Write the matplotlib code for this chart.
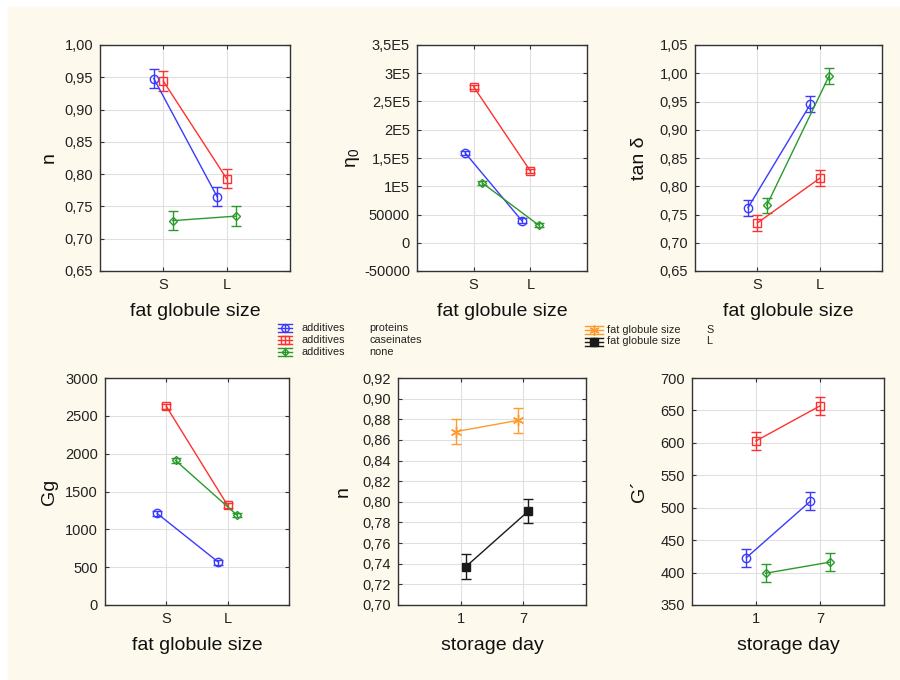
import matplotlib
matplotlib.use("Agg")
import matplotlib.pyplot as plt
from matplotlib.patches import Rectangle
from matplotlib.ticker import MultipleLocator, FixedLocator, FuncFormatter

plt.rcParams["font.family"] = ["Liberation Sans", "DejaVu Sans"]
plt.rcParams["mathtext.default"] = "regular"

# ---- data ----
SIZE_CATS = ["S", "L"]
DAY_CATS = ["1", "7"]
ADDITIVES = ["proteins", "caseinates", "none"]
FAT_SIZES = ["S", "L"]

# n vs fat globule size
n_size = {"proteins": [0.948, 0.765], "caseinates": [0.944, 0.793], "none": [0.728, 0.735]}
n_size_err = 0.015

# eta0 vs fat globule size
eta0_size = {"proteins": [159000, 39000], "caseinates": [276000, 127000], "none": [106000, 31000]}
eta0_size_err = 4000
eta0_ticks = [-50000, 0, 50000, 100000, 150000, 200000, 250000, 300000, 350000]
eta0_tick_labels = ["-50000", "0", "50000", "1E5", "1,5E5", "2E5", "2,5E5", "3E5", "3,5E5"]

# tan delta vs fat globule size
tand_size = {"proteins": [0.762, 0.945], "caseinates": [0.735, 0.814], "none": [0.766, 0.995]}
tand_size_err = 0.014

# Gg vs fat globule size
gg_size = {"proteins": [1210, 565], "caseinates": [2625, 1315], "none": [1910, 1190]}
gg_size_err = 30

# n vs storage day, by fat globule size
n_day = {"S": [0.868, 0.879], "L": [0.737, 0.791]}
n_day_err = 0.012

# G' vs storage day, by additive
g_day = {"proteins": [423, 510], "caseinates": [603, 657], "none": [399, 416]}
g_day_err = 14

# ---- styles ----
CREAM = "#fdf9ec"
ADD_STYLE = {
    "proteins": dict(color="#3a3aff", marker="o", ms=6, mfc="none", off=-0.15),
    "caseinates": dict(color="#ff3030", marker="s", ms=6, mfc="none", off=0.0),
    "none": dict(color="#2a9a2a", marker="D", ms=3.8, mfc="none", off=0.15),
}
SIZE_STYLE = {
    "S": dict(color="#ff9a2e", marker=(6, 2, 0), ms=8, mfc="none", off=-0.08),
    "L": dict(color="#1a1a1a", marker="s", ms=6, mfc="#1a1a1a", off=0.08),
}

W, H = 900, 680
fig = plt.figure(figsize=(9, 6.8), dpi=100, facecolor="white")

# background panel (pixel coordinates)
bg = fig.add_axes([0, 0, 1, 1])
bg.set_xlim(0, W)
bg.set_ylim(H, 0)
bg.axis("off")
bg.add_patch(Rectangle((8, 7), W - 8, H - 7, color=CREAM, zorder=0))


def make_axes(left, top, width, height):
    return fig.add_axes([left / W, 1 - (top + height) / H, width / W, height / H])


def comma_fmt(decimals):
    return FuncFormatter(lambda v, _: f"{v:.{decimals}f}".replace(".", ","))


def style_axes(ax, cats, ylim, step, fmt, xlabel, ylabel, rect, ylab_x, xlab_y):
    ax.set_facecolor("white")
    ax.set_xlim(0, 3)
    ax.set_xticks([1, 2])
    ax.set_xticklabels(cats)
    ax.set_ylim(*ylim)
    if step is not None:
        ax.yaxis.set_major_locator(MultipleLocator(step))
    if fmt is not None:
        ax.yaxis.set_major_formatter(fmt)
    ax.grid(True, color="#e0e0e0", lw=0.8)
    ax.set_axisbelow(True)
    for s in ax.spines.values():
        s.set_color("#333333")
        s.set_linewidth(1.0)
    ax.tick_params(direction="in", length=3, width=0.8, color="#333333",
                   labelsize=10.5, labelcolor="#222222", top=True, right=True, pad=5)
    left, top, width, height = rect
    ax.set_xlabel(xlabel, fontsize=14, color="#111111")
    ax.set_ylabel(ylabel, fontsize=14, color="#111111")
    ax.xaxis.set_label_coords(0.5, (top + height - xlab_y) / height)
    ax.yaxis.set_label_coords((ylab_x - left) / width, 0.5)


def draw_series(ax, series, styles, err):
    for key, vals in series.items():
        st = styles[key]
        xs = [i + 1 + st["off"] for i in range(len(vals))]
        ax.errorbar(xs, vals, yerr=err, color=st["color"], marker=st["marker"],
                    ms=st["ms"], mfc=st["mfc"], mec=st["color"], mew=1.0,
                    lw=1.0, elinewidth=1.0, capsize=3.5, capthick=1.0, zorder=3)


# top row
r1 = (100, 45, 190, 226)
ax1 = make_axes(*r1)
draw_series(ax1, n_size, ADD_STYLE, n_size_err)
style_axes(ax1, SIZE_CATS, (0.65, 1.00), 0.05, comma_fmt(2), "fat globule size", "n", r1, 58, 303)

r2 = (417, 45, 170, 226)
ax2 = make_axes(*r2)
draw_series(ax2, eta0_size, ADD_STYLE, eta0_size_err)
style_axes(ax2, SIZE_CATS, (-50000, 350000), None, None, "fat globule size", "η$_0$", r2, 362, 303)
ax2.yaxis.set_major_locator(FixedLocator(eta0_ticks))
ax2.set_yticklabels(eta0_tick_labels)

r3 = (695, 45, 187, 226)
ax3 = make_axes(*r3)
draw_series(ax3, tand_size, ADD_STYLE, tand_size_err)
style_axes(ax3, SIZE_CATS, (0.65, 1.05), 0.05, comma_fmt(2), "fat globule size", "tan δ", r3, 648, 303)

# bottom row
r4 = (105, 378, 184, 227)
ax4 = make_axes(*r4)
draw_series(ax4, gg_size, ADD_STYLE, gg_size_err)
style_axes(ax4, SIZE_CATS, (0, 3000), 500, FuncFormatter(lambda v, _: f"{v:.0f}"),
           "fat globule size", "Gg", r4, 58, 637)

r5 = (398, 378, 188, 227)
ax5 = make_axes(*r5)
draw_series(ax5, n_day, SIZE_STYLE, n_day_err)
style_axes(ax5, DAY_CATS, (0.70, 0.92), 0.02, comma_fmt(2), "storage day", "n", r5, 352, 637)

r6 = (692, 378, 192, 227)
ax6 = make_axes(*r6)
draw_series(ax6, g_day, ADD_STYLE, g_day_err)
style_axes(ax6, DAY_CATS, (350, 700), 50, FuncFormatter(lambda v, _: f"{v:.0f}"),
           "storage day", "G´", r6, 648, 637)


# legends drawn by hand in pixel space
def legend_handle(xc, y, half, st):
    c = st["color"]
    for dy in (-4, 0, 4):
        bg.plot([xc - half, xc + half], [y + dy, y + dy], color=c, lw=1.0, zorder=2)
    bg.plot([xc, xc], [y - 4, y + 4], color=c, lw=1.0, zorder=2)
    bg.plot([xc], [y], marker=st["marker"], ms=st["ms"] * 0.9, mfc=st["mfc"],
            mec=c, mew=1.0, color=c, zorder=3)


for i, name in enumerate(ADDITIVES):
    y = 328 + 12 * i
    legend_handle(285, y, 7, ADD_STYLE[name])
    bg.text(302, y, "additives", fontsize=7.8, va="center", color="#222222")
    bg.text(369, y, name, fontsize=7.8, va="center", color="#222222")

for i, name in enumerate(FAT_SIZES):
    y = 330 + 11.5 * i
    legend_handle(594, y, 9, SIZE_STYLE[name])
    bg.text(607, y, "fat globule size", fontsize=7.8, va="center", color="#222222")
    bg.text(706, y, name, fontsize=7.8, va="center", color="#222222")

fig.savefig("out.png", dpi=100, facecolor=fig.get_facecolor())
